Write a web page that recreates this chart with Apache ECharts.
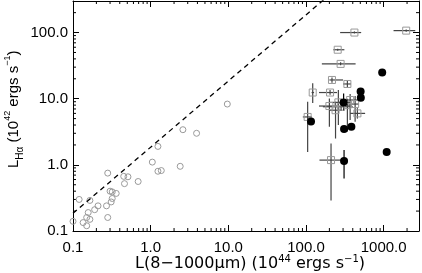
<!DOCTYPE html>
<html><head><meta charset="utf-8">
<script src="https://cdn.jsdelivr.net/npm/echarts@6/dist/echarts.min.js"></script>
<style>html,body{margin:0;padding:0;background:#fff}#c{width:422px;height:273px}</style>
</head><body><div id="c"></div>
<script>
// ---- data ----
const xMin = 0.1, xMax = 2850, yMin = 0.1, yMax = 300;
// open circles: [L_IR, L_Halpha]
const openCircles = [
  [9.7, 8.3], [2.6, 3.4], [3.9, 3.0], [1.24, 1.9], [1.05, 1.1], [1.24, 0.80], [1.37, 0.82],
  [2.4, 0.95], [0.28, 0.75], [0.45, 0.67], [0.51, 0.66], [0.46, 0.52], [0.69, 0.56],
  [0.30, 0.40], [0.32, 0.39], [0.36, 0.37], [0.32, 0.31], [0.31, 0.275], [0.27, 0.24],
  [0.28, 0.16], [0.21, 0.24], [0.19, 0.21], [0.157, 0.19], [0.12, 0.30], [0.165, 0.29],
  [0.15, 0.16], [0.165, 0.15], [0.135, 0.134], [0.15, 0.12], [0.1, 0.14]
];
// open squares with error bars: [x, y, xLow, xHigh, yLow, yHigh]
const squares = [
  [420, 100, 275, 513, 97, 104],
  [1950, 107, 1340, 2550, 103, 111],
  [256, 55, 225, 312, 53, 57],
  [279, 33.6, 160, 435, 32, 35.5],
  [216, 19.2, 200, 300, 17.5, 21],
  [341, 16.7, 300, 380, 14.5, 19],
  [122, 12.4, 118, 127, 8.6, 17.1],
  [204, 12.4, 147, 251, 11.5, 13.5],
  [105, 5.3, 91, 119, 1.57, 9.0],
  [210, 1.18, 149, 303, 0.29, 2.11],
  [200, 7.75, 147, 251, 3.77, 10.1],
  [261, 8.8, 204, 370, 4.0, 13.5],
  [370, 9.56, 275, 505, 4.76, 11.8],
  [429, 8.3, 380, 480, 4.5, 11],
  [459, 6.0, 370, 577, 5.0, 7.2],
  [283, 7.56, 165, 400, 6.5, 8.5],
  [341, 8.0, 300, 390, 3.2, 10],
  [240, 6.7, 200, 290, 2.5, 9]
];
// filled circles with error bars: [x, y, xLow, xHigh, yLow, yHigh]
const filled = [
  [957, 24.8, 957, 957, 24.8, 24.8],
  [505, 12.8, 505, 505, 12.8, 12.8],
  [508, 10.3, 508, 508, 10.3, 10.3],
  [305, 8.76, 305, 305, 6.5, 12],
  [116, 4.52, 116, 116, 4.52, 4.52],
  [309, 3.47, 309, 309, 3.47, 3.47],
  [384, 3.77, 384, 384, 3.77, 3.77],
  [1093, 1.56, 1093, 1093, 1.56, 1.56],
  [309, 1.14, 309, 309, 0.62, 1.67]
];
// dashed reference line end points
const refLine = [[0.1, 0.185], [170, 315]];
// minor tick values (2..9 within each decade)
const decades = [0.1, 1, 10, 100, 1000];
const xMinor = [], yMinor = [];
for (const d of decades) for (let k = 2; k <= 9; k++) { const v = +(d * k).toPrecision(3); if (v < xMax) xMinor.push([v, 1]); if (v < yMax) yMinor.push([1, v]); }

const FONT = 'Liberation Sans';
const TFONT = 'DejaVu Sans';
const fmt = v => { const l = Math.log10(v); if (Math.abs(l - Math.round(l)) > 1e-6) return ''; return v.toFixed(1); };

function errRender(color) {
  return function (params, api) {
    const x = api.value(0), y = api.value(1);
    const a = api.coord([api.value(2), y]), b = api.coord([api.value(3), y]);
    const c = api.coord([x, api.value(4)]), d = api.coord([x, api.value(5)]);
    const st = { stroke: color, lineWidth: 1.2 };
    return { type: 'group', children: [
      { type: 'line', shape: { x1: a[0], y1: a[1], x2: b[0], y2: b[1] }, style: st },
      { type: 'line', shape: { x1: c[0], y1: c[1], x2: d[0], y2: d[1] }, style: st }
    ] };
  };
}
function xTickRender(params, api) {
  const v = api.value(0);
  const b = api.coord([v, yMin]), t = api.coord([v, yMax]);
  const st = { stroke: '#000', lineWidth: 1 };
  return { type: 'group', children: [
    { type: 'line', shape: { x1: b[0], y1: b[1], x2: b[0], y2: b[1] - 3 }, style: st },
    { type: 'line', shape: { x1: t[0], y1: t[1], x2: t[0], y2: t[1] + 3 }, style: st } ] };
}
function yTickRender(params, api) {
  const v = api.value(1);
  const l = api.coord([xMin, v]), r = api.coord([xMax, v]);
  const st = { stroke: '#000', lineWidth: 1 };
  return { type: 'group', children: [
    { type: 'line', shape: { x1: l[0], y1: l[1], x2: l[0] + 3, y2: l[1] }, style: st },
    { type: 'line', shape: { x1: r[0], y1: r[1], x2: r[0] - 3, y2: r[1] }, style: st } ] };
}

const chart = echarts.init(document.getElementById('c'), null, { renderer: 'canvas' });
const axisBase = { type: 'log', logBase: 10, axisLine: { show: true, onZero: false, lineStyle: { color: '#000', width: 1 } },
  axisTick: { show: true, inside: true, length: 6, lineStyle: { color: '#000' } }, splitLine: { show: false } };
chart.setOption({
  animation: false,
  grid: { left: 73, right: 3, top: 1, bottom: 42, containLabel: false },
  xAxis: [
    Object.assign({}, axisBase, { min: xMin, max: xMax, position: 'bottom',
      axisLabel: { formatter: fmt, fontFamily: FONT, fontSize: 15, color: '#000', margin: 9 } }),
    Object.assign({}, axisBase, { min: xMin, max: xMax, position: 'top', axisLabel: { show: false } })
  ],
  yAxis: [
    Object.assign({}, axisBase, { min: yMin, max: yMax, position: 'left',
      axisLabel: { formatter: fmt, fontFamily: FONT, fontSize: 15, color: '#000', margin: 5 } }),
    Object.assign({}, axisBase, { min: yMin, max: yMax, position: 'right', axisLabel: { show: false } })
  ],
  series: [
    { type: 'line', data: refLine, symbol: 'none', clip: true, lineStyle: { color: '#000', width: 1.3, type: [5, 4] } },
    { type: 'scatter', data: openCircles, symbol: 'circle', symbolSize: 6,
      itemStyle: { color: 'rgba(0,0,0,0)', borderColor: '#999', borderWidth: 1, opacity: 1 } },
    { type: 'custom', data: squares, renderItem: errRender('#444'), encode: { x: 0, y: 1 } },
    { type: 'scatter', data: squares.map(r => [r[0], r[1]]), symbol: 'rect', symbolSize: 7,
      itemStyle: { color: 'rgba(0,0,0,0)', borderColor: '#999', borderWidth: 1, opacity: 1 } },
    { type: 'custom', data: filled, renderItem: errRender('#000'), encode: { x: 0, y: 1 } },
    { type: 'scatter', data: filled.map(r => [r[0], r[1]]), symbol: 'circle', symbolSize: 8,
      itemStyle: { color: '#000', opacity: 1 } },
    { type: 'custom', data: xMinor, renderItem: xTickRender, encode: { x: 0, y: 1 } },
    { type: 'custom', data: yMinor, renderItem: yTickRender, encode: { x: 0, y: 1 } }
  ],
  graphic: [
    { type: 'text', left: 135, top: 252, style: {
      text: '{m|L(8\u22121000\u03bcm) (10}{s|44}{m| ergs s}{s|\u22121}{m|)}',
      rich: { m: { fontFamily: TFONT, fontSize: 16, fill: '#000', lineHeight: 20, verticalAlign: 'bottom' },
              s: { fontFamily: TFONT, fontSize: 10, fill: '#000', lineHeight: 20, verticalAlign: 'top', padding: [2, 0, 0, 0] } } } },
    { type: 'text', x: 3, y: 168, rotation: Math.PI / 2, style: {
      text: '{m|L}{b|H\u03b1}{m| (10}{s|42}{m| ergs s}{s|\u22121}{m|)}',
      rich: { m: { fontFamily: FONT, fontSize: 15, fill: '#000', lineHeight: 22, verticalAlign: 'middle' },
              b: { fontFamily: FONT, fontSize: 10, fill: '#000', lineHeight: 22, verticalAlign: 'bottom' },
              s: { fontFamily: FONT, fontSize: 9, fill: '#000', lineHeight: 22, verticalAlign: 'top' } } } }
  ]
});
</script></body></html>
